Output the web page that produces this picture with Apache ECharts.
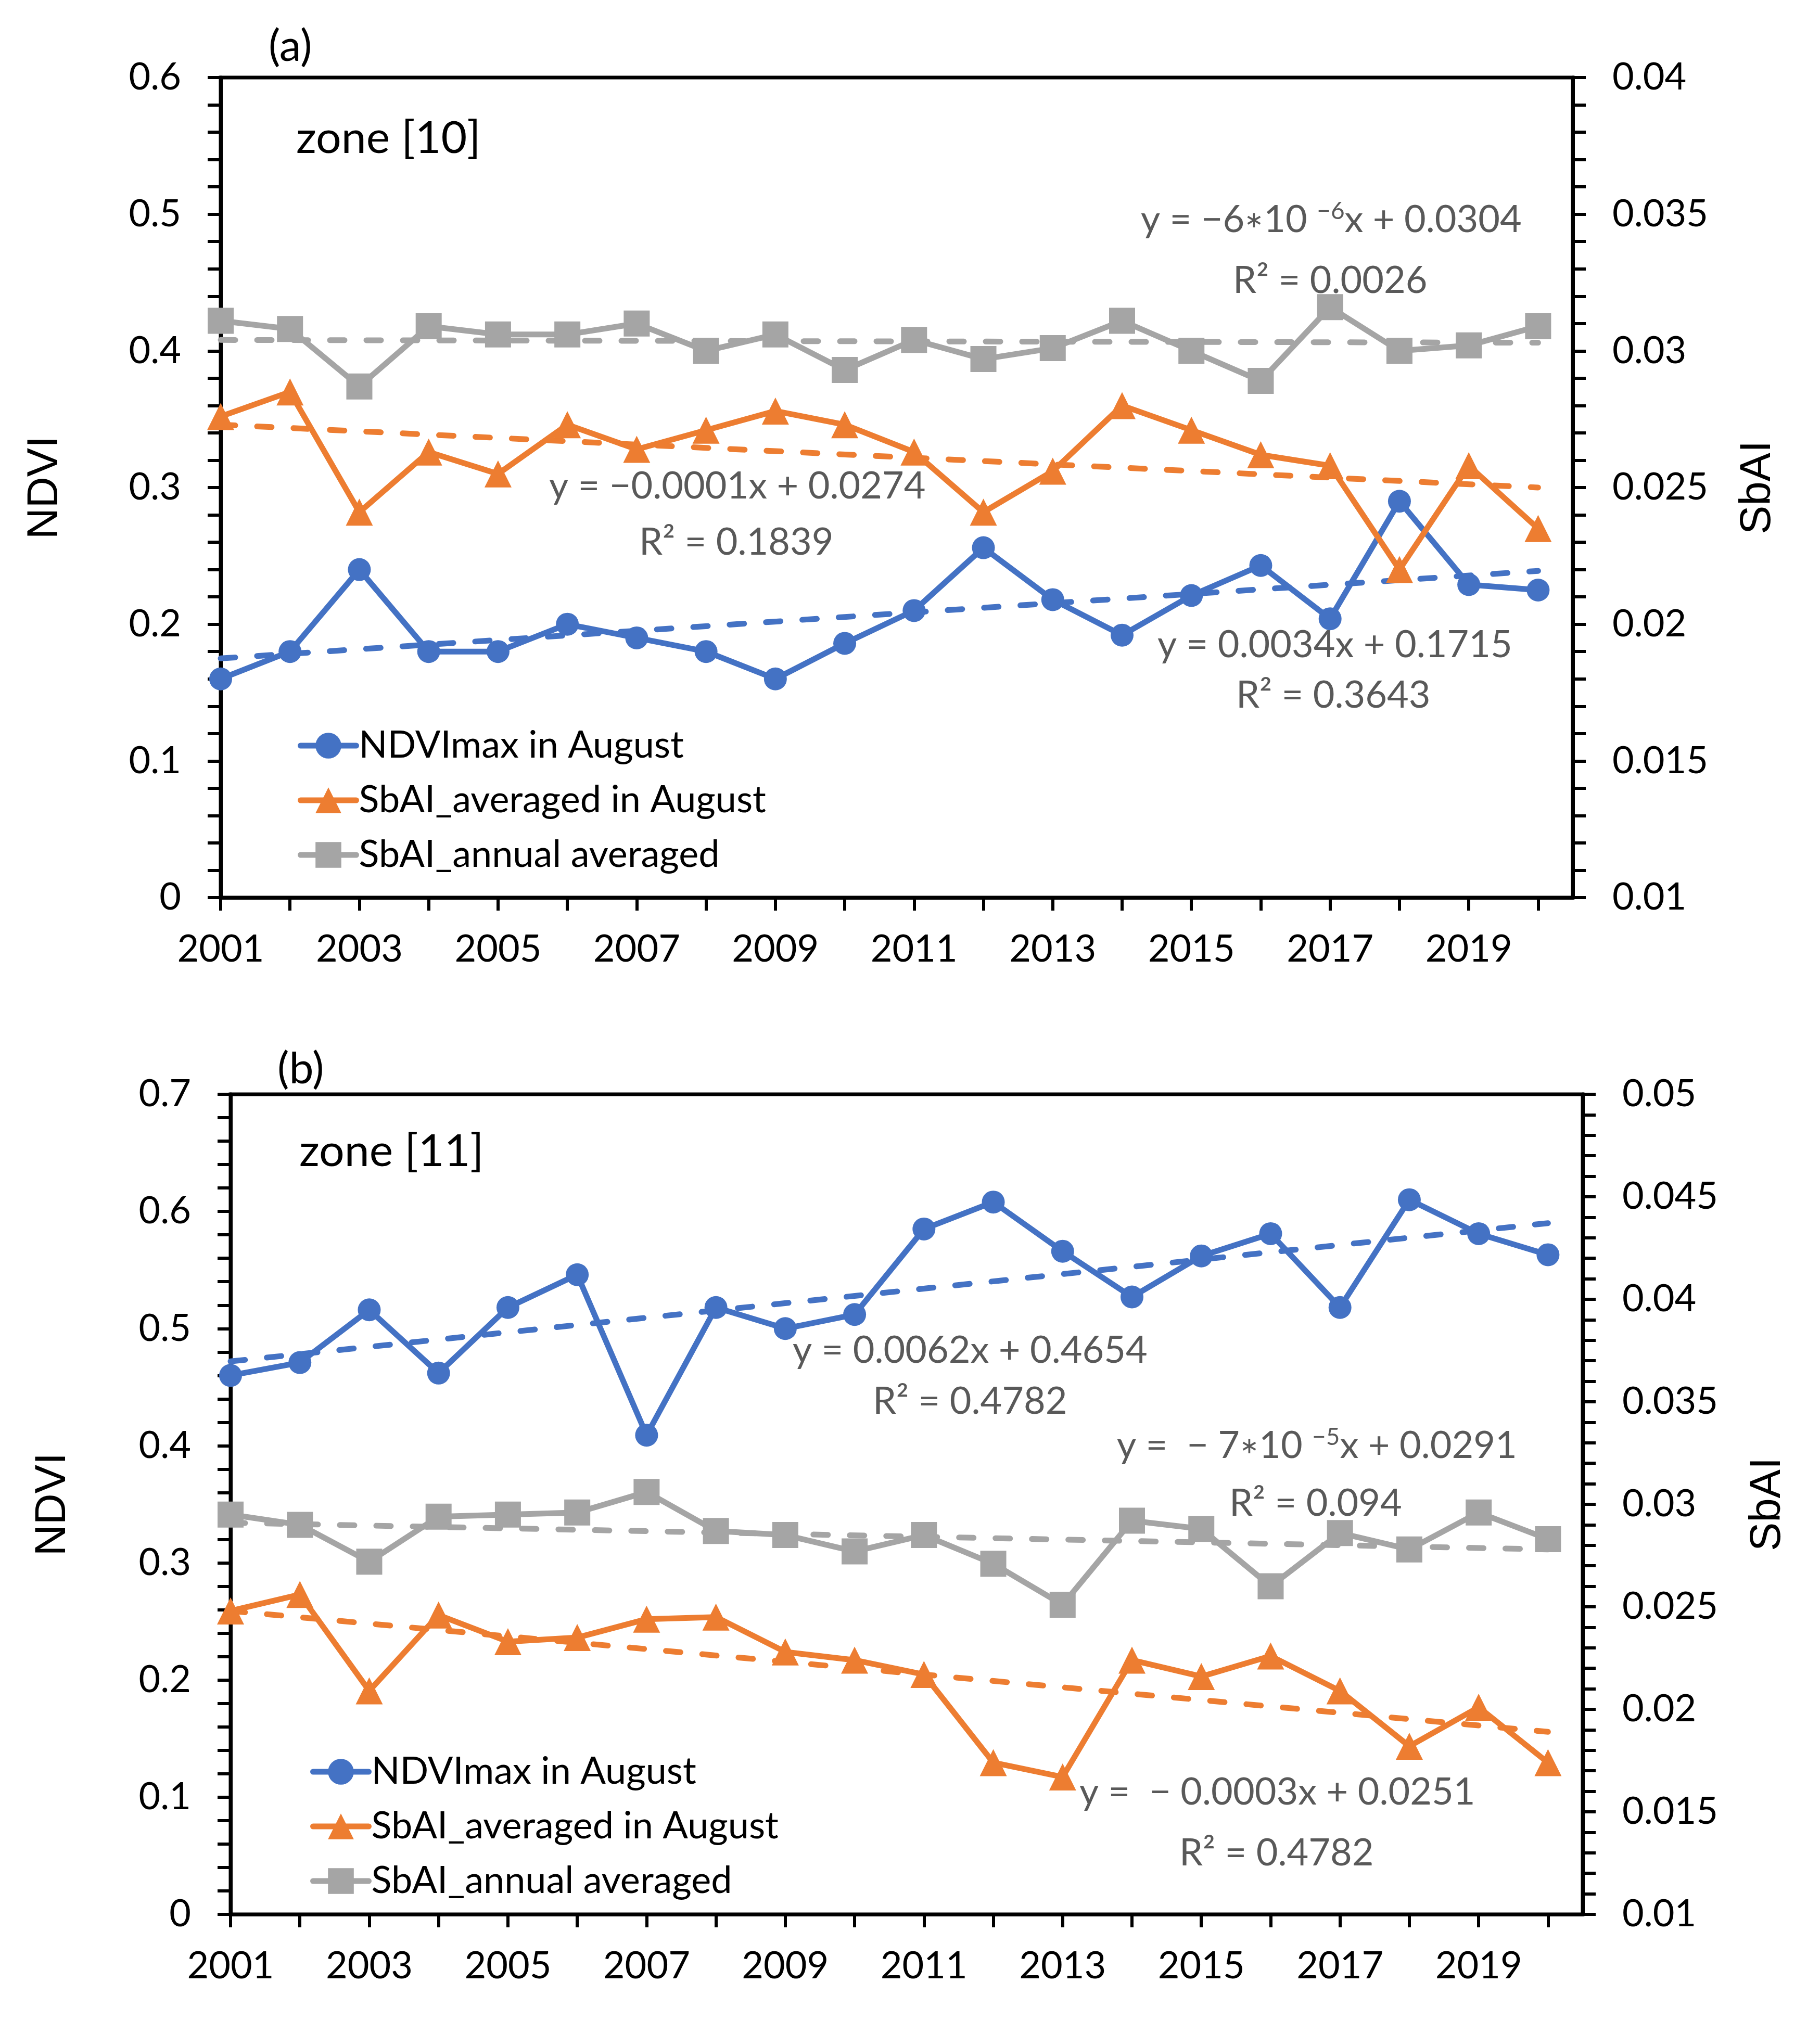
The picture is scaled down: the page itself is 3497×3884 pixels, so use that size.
<!DOCTYPE html>
<html>
<head>
<meta charset="utf-8">
<script src="https://cdn.jsdelivr.net/npm/echarts@6/dist/echarts.min.js"></script>
<style>
  html, body { margin: 0; padding: 0; background: #fff; }
  #chart { width: 3497px; height: 3884px; }
</style>
</head>
<body>
<div id="chart"></div>
<script>
// years on the x axis
const years = [2001, 2002, 2003, 2004, 2005, 2006, 2007, 2008, 2009, 2010,
               2011, 2012, 2013, 2014, 2015, 2016, 2017, 2018, 2019, 2020];
const labelYears = [2001, 2003, 2005, 2007, 2009, 2011, 2013, 2015, 2017, 2019];

// (a) zone [10]
const ndviA    = [0.160, 0.180, 0.240, 0.180, 0.180, 0.200, 0.190, 0.180, 0.160, 0.186,
                  0.210, 0.256, 0.218, 0.192, 0.221, 0.243, 0.204, 0.290, 0.229, 0.225];
const sbaiAugA = [0.0276, 0.0285, 0.0241, 0.0263, 0.0255, 0.0273, 0.0264, 0.0271, 0.0278, 0.0273,
                  0.0263, 0.0241, 0.0256, 0.0280, 0.0271, 0.0262, 0.0258, 0.0220, 0.0258, 0.0235];
const sbaiAnnA = [0.0311, 0.0308, 0.0287, 0.0309, 0.0306, 0.0306, 0.0310, 0.0300, 0.0306, 0.0293,
                  0.0304, 0.0297, 0.0301, 0.0311, 0.0300, 0.0289, 0.0316, 0.0300, 0.0302, 0.0309];

// (b) zone [11]
const ndviB    = [0.460, 0.471, 0.516, 0.462, 0.518, 0.546, 0.409, 0.518, 0.500, 0.512,
                  0.585, 0.608, 0.566, 0.527, 0.562, 0.581, 0.518, 0.610, 0.581, 0.563];
const sbaiAugB = [0.0248, 0.0256, 0.0209, 0.0246, 0.0233, 0.0235, 0.0244, 0.0245, 0.0228, 0.0224,
                  0.0217, 0.0174, 0.0167, 0.0224, 0.0216, 0.0226, 0.0209, 0.0182, 0.0201, 0.0174];
const sbaiAnnB = [0.0295, 0.0290, 0.0272, 0.0294, 0.0295, 0.0296, 0.0306, 0.0287, 0.0285, 0.0277,
                  0.0285, 0.0271, 0.0251, 0.0292, 0.0288, 0.0260, 0.0286, 0.0278, 0.0296, 0.0283];

// linear trend lines, start / end value
const trendYears  = [2001, 2020];
const trendNdviA  = [0.175, 0.239];
const trendAugA   = [0.0273, 0.0250];
const trendAnnA   = [0.0304, 0.0303];
const trendNdviB  = [0.472, 0.590];
const trendAugB   = [0.0248, 0.0189];
const trendAnnB   = [0.0291, 0.0278];

const names   = ['NDVImax in August', 'SbAI_averaged in August', 'SbAI_annual averaged'];
const colors  = ['#4472C4', '#ED7D31', '#A5A5A5'];
const symbols = ['circle', 'triangle', 'rect'];
const sizes   = [44, 52, 50];

const FONT = 'Lato, "Open Sans", sans-serif';
const TITLE_FONT = '"Liberation Sans", Arial, sans-serif';
const EQ = '#595959';

function pairs(xs, ys) {
	return xs.map((x, i) => [x, ys[i]]);
}

// x axis: value axis so 2001 sits on the left edge, half a year of room on the right
function makeX(gi) {
	return {
		type: 'value', gridIndex: gi,
		min: 2001, max: 2020.5, interval: 1,
		axisLine: { show: true, onZero: false, lineStyle: { color: '#000', width: 7 } },
		axisTick: { show: true, customValues: years, length: 25, lineStyle: { color: '#000', width: 6 } },
		axisLabel: {
			customValues: labelYears, fontSize: 72, fontFamily: FONT, color: '#000', margin: 64,
			formatter: (v) => String(v)
		},
		splitLine: { show: false }
	};
}

function makeY(gi, pos, min, max, interval, name, gap) {
	return {
		type: 'value', gridIndex: gi, position: pos,
		min: min, max: max, interval: interval,
		name: name, nameLocation: 'middle', nameRotate: 90, nameGap: gap,
		nameTextStyle: { fontSize: 83, fontFamily: TITLE_FONT, color: '#000' },
		axisLine: { show: true, onZero: false, lineStyle: { color: '#000', width: 7 } },
		axisTick: { show: true, length: 25, lineStyle: { color: '#000', width: 6 } },
		minorTick: { show: true, splitNumber: 5, length: 25, lineStyle: { color: '#000', width: 6 } },
		axisLabel: { fontSize: 72, fontFamily: FONT, color: '#000', margin: 76 },
		splitLine: { show: false }
	};
}

function dataSeries(k, vals, xi, yi) {
	return {
		name: names[k], type: 'line', xAxisIndex: xi, yAxisIndex: yi,
		data: pairs(years, vals),
		symbol: symbols[k], symbolSize: sizes[k],
		itemStyle: { color: colors[k] },
		lineStyle: { color: colors[k], width: 11, cap: 'round', join: 'round' },
		z: 5
	};
}

function trendSeries(k, vals, xi, yi) {
	return {
		name: 'trend' + k, type: 'line', xAxisIndex: xi, yAxisIndex: yi,
		data: pairs(trendYears, vals),
		symbol: 'none', silent: true,
		lineStyle: { color: colors[k], width: 11, type: [28, 42], cap: 'round' },
		z: 3
	};
}

function txt(text, x, y, size, color) {
	return {
		type: 'text', x: x, y: y,
		style: {
			text: text, fill: color, fontSize: size, fontFamily: FONT,
			align: 'left', verticalAlign: 'middle',
			rich: {
				n: { fontSize: size, fontFamily: FONT, fill: color, lineHeight: 80 },
				a: { fontSize: 44, fontFamily: FONT, fill: color, lineHeight: 80 },
				s: { fontSize: 46, fontFamily: FONT, fill: color, verticalAlign: 'top', lineHeight: 46 }
			}
		}
	};
}

function legend(left, top) {
	return {
		data: names, orient: 'vertical', left: left, top: top,
		itemWidth: 107, itemHeight: 62, itemGap: 33,
		lineStyle: { width: 11, cap: 'round' },
		textStyle: { fontSize: 72, fontFamily: FONT, color: '#000' },
		selectedMode: false
	};
}

const chart = echarts.init(document.getElementById('chart'));

chart.setOption({
	animation: false,
	backgroundColor: '#fff',
	textStyle: { fontFamily: FONT },
	grid: [
		{ left: 424, top: 149, width: 2598, height: 1576, show: true, borderColor: '#000', borderWidth: 7 },
		{ left: 443, top: 2103, width: 2598, height: 1576, show: true, borderColor: '#000', borderWidth: 7 }
	],
	xAxis: [makeX(0), makeX(1)],
	yAxis: [
		makeY(0, 'left', 0, 0.6, 0.1, 'NDVI', 295),
		makeY(0, 'right', 0.01, 0.04, 0.005, 'SbAI', 315),
		makeY(1, 'left', 0, 0.7, 0.1, 'NDVI', 299),
		makeY(1, 'right', 0.01, 0.05, 0.005, 'SbAI', 315)
	],
	legend: [legend(567, 1392), legend(591, 3364)],
	series: [
		trendSeries(0, trendNdviA, 0, 0),
		trendSeries(1, trendAugA, 0, 1),
		trendSeries(2, trendAnnA, 0, 1),
		dataSeries(0, ndviA, 0, 0),
		dataSeries(1, sbaiAugA, 0, 1),
		dataSeries(2, sbaiAnnA, 0, 1),

		trendSeries(0, trendNdviB, 1, 2),
		trendSeries(1, trendAugB, 1, 3),
		trendSeries(2, trendAnnB, 1, 3),
		dataSeries(0, ndviB, 1, 2),
		dataSeries(1, sbaiAugB, 1, 3),
		dataSeries(2, sbaiAnnB, 1, 3)
	],
	graphic: [
		// panel labels
		txt('(a)', 516, 90, 84, '#000'),
		txt('zone [10]', 569, 266, 86, '#000'),
		txt('(b)', 533, 2055, 84, '#000'),
		txt('zone [11]', 575, 2213, 86, '#000'),

		// trend equations (a)
		txt('{n|y = −6}{a|∗}{n|10 }{s|−6}{n|x + 0.0304}', 2192, 423, 72, EQ),
		txt('R² = 0.0026', 2369, 540, 72, EQ),
		txt('y = −0.0001x + 0.0274', 1055, 935, 72, EQ),
		txt('R² = 0.1839', 1228, 1043, 72, EQ),
		txt('y = 0.0034x + 0.1715', 2224, 1240, 72, EQ),
		txt('R² = 0.3643', 2375, 1337, 72, EQ),

		// trend equations (b)
		txt('y = 0.0062x + 0.4654', 1523, 2596, 72, EQ),
		txt('R² = 0.4782', 1677, 2694, 72, EQ),
		txt('{n|y =  − 7}{a|∗}{n|10 }{s|−5}{n|x + 0.0291}', 2146, 2779, 72, EQ),
		txt('R² = 0.094', 2362, 2890, 72, EQ),
		txt('y =  − 0.0003x + 0.0251', 2074, 3445, 72, EQ),
		txt('R² = 0.4782', 2266, 3562, 72, EQ)
	]
});
</script>
</body>
</html>
